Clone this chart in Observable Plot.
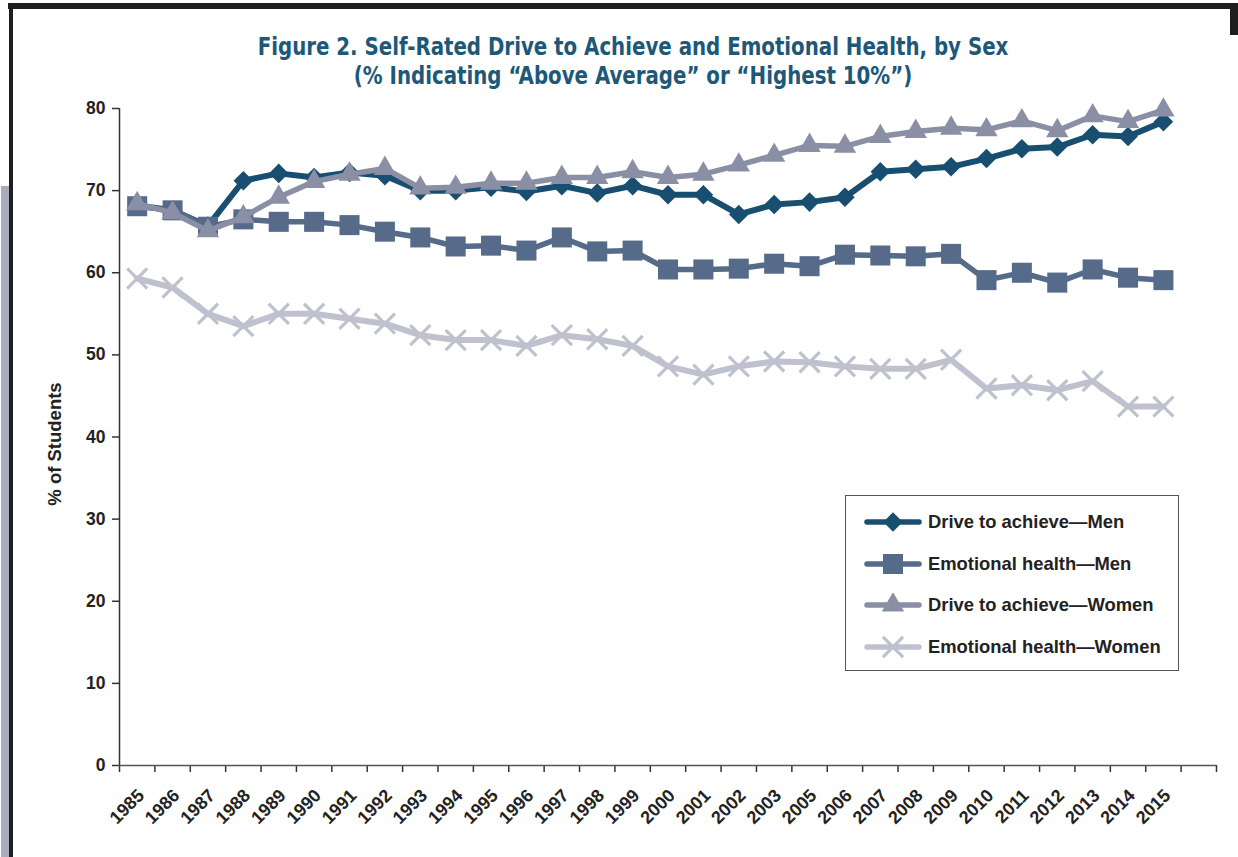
<!DOCTYPE html>
<html>
<head>
<meta charset="utf-8">
<script src="https://cdn.jsdelivr.net/npm/d3@7"></script>
<script src="https://cdn.jsdelivr.net/npm/@observablehq/plot@0.6"></script>
<style>
  html, body { margin: 0; padding: 0; background: #fff; }
  #page { position: relative; width: 1238px; height: 857px; overflow: hidden; background: #fff; font-family: "Liberation Sans", Arial, sans-serif; }
  #topbar { position: absolute; left: 8px; top: 3px; width: 1230px; height: 6px; background: #1e1e1e; }
  #leftbar { position: absolute; left: 9px; top: 3px; width: 4px; height: 857px; background: #1e1e1e; }
  #rightbar { position: absolute; left: 1230px; top: 3px; width: 8px; height: 32px; background: #1e1e1e; }
  #greybar { position: absolute; left: 1px; top: 186px; width: 8px; height: 671px; background: #a9acbd; }
  #title { position: absolute; left: 0; top: 32px; width: 1266px; text-align: center; color: #1d5878; font-family: "DejaVu Sans Condensed", "Liberation Sans Narrow", sans-serif; font-weight: bold; font-size: 25px; line-height: 29px; transform-origin: 633px 0; transform: scaleX(0.88); }
  #ylabel { position: absolute; left: 55px; top: 444px; transform: translate(-50%, -50%) rotate(-90deg); font-weight: bold; font-size: 18.5px; color: #222; white-space: nowrap; }
  #chart { position: absolute; left: 0; top: 90px; }
  #legend { position: absolute; left: 845px; top: 495px; width: 332px; height: 174px; border: 1px solid #555; background: #fff; }
  .item { position: absolute; left: 17px; height: 24px; display: flex; align-items: center; font-weight: bold; font-size: 18.4px; color: #222; white-space: nowrap; }
  .item svg { margin-right: 5px; }
</style>
</head>
<body>
<div id="page">
  <div id="topbar"></div>
  <div id="leftbar"></div>
  <div id="rightbar"></div>
  <div id="greybar"></div>
  <div id="title">Figure 2. Self-Rated Drive to Achieve and Emotional Health, by Sex<br>(% Indicating “Above Average” or “Highest 10%”)</div>
  <div id="ylabel">% of Students</div>
  <div id="chart"></div>
  <div id="legend"></div>
</div>
<script>
const years = ["1985","1986","1987","1988","1989","1990","1991","1992","1993","1994","1995","1996","1997","1998","1999","2000","2001","2002","2003","2005","2006","2007","2008","2009","2010","2011","2012","2013","2014","2015"];

const driveMen = [68.2,67.6,65.7,71.2,72.1,71.6,72.2,71.8,70.0,70.0,70.4,69.9,70.6,69.7,70.6,69.5,69.5,67.1,68.3,68.6,69.2,72.3,72.6,72.9,73.9,75.1,75.3,76.8,76.6,78.4];
const emoMen = [68.1,67.6,65.6,66.5,66.2,66.2,65.8,65.0,64.3,63.2,63.3,62.7,64.3,62.6,62.7,60.4,60.4,60.5,61.1,60.8,62.2,62.1,62.0,62.3,59.1,60.0,58.8,60.4,59.4,59.1];
const driveWomen = [68.4,67.3,65.1,66.8,69.2,71.1,72.0,72.7,70.3,70.4,70.9,70.9,71.6,71.6,72.3,71.6,72.0,73.1,74.3,75.5,75.4,76.6,77.2,77.6,77.4,78.5,77.3,79.1,78.4,79.8];
const emoWomen = [59.3,58.2,55.0,53.5,55.0,55.0,54.4,53.8,52.4,51.8,51.8,51.1,52.4,51.9,51.1,48.6,47.6,48.6,49.2,49.1,48.6,48.3,48.3,49.4,45.9,46.3,45.7,46.8,43.7,43.7];

const seriesNames = ["Drive to achieve—Men","Emotional health—Men","Drive to achieve—Women","Emotional health—Women"];
const seriesValues = [driveMen, emoMen, driveWomen, emoWomen];
const seriesColors = ["#184f71","#566a8a","#8b8fa6","#bfc1cf"];
const seriesSymbols = ["diamond2","square","triangle","times"];
const seriesR = [8.8, 11.3, 8.3, 9.2];
const seriesLineW = [6, 5.5, 5.5, 6];
const yTicks = [0,10,20,30,40,50,60,70,80];

const seriesMarks = seriesNames.flatMap((name, k) => {
  const data = seriesValues[k].map((v, i) => ({i, v}));
  const stroke = seriesColors[k];
  const isStroke = seriesSymbols[k] === "times";
  return [
    Plot.line(data, {x: "i", y: "v", stroke, strokeWidth: seriesLineW[k], strokeLinejoin: "round", strokeLinecap: "round"}),
    Plot.dot(data, {x: "i", y: "v", symbol: seriesSymbols[k], r: seriesR[k],
      fill: isStroke ? "none" : stroke, stroke: isStroke ? stroke : "none", strokeWidth: isStroke ? 3.2 : 0})
  ];
});

const chart = Plot.plot({
  width: 1238,
  height: 767,
  marginTop: 18,
  marginBottom: 92,
  marginLeft: 119,
  marginRight: 22,
  x: {type: "linear", domain: [-0.5, 30.5], axis: null},
  y: {domain: [0, 80], axis: null},
  style: {fontFamily: "Liberation Sans, Arial, sans-serif", background: "transparent", color: "#222"},
  marks: [
    Plot.axisY({ticks: yTicks, tickSize: 7, tickFormat: () => "", label: null, stroke: "#333", strokeWidth: 1.5}),
    Plot.text(yTicks, {x: -0.5, y: d => d, text: d => String(d), textAnchor: "end", dx: -14, fontSize: 17.5, fontWeight: "bold", fill: "#222"}),
    Plot.axisX({ticks: d3.range(-0.5, years.length + 1, 1), tickSize: 7, tickFormat: () => "", label: null, stroke: "#333", strokeWidth: 1.5}),
    Plot.text(years, {x: (d, i) => i, y: 0, text: d => d, rotate: -45, textAnchor: "end", dx: 4, dy: 27, fontSize: 18, fontWeight: "bold", fill: "#222"}),
    Plot.ruleX([-0.5], {y1: 0, y2: 80, stroke: "#333", strokeWidth: 1.5}),
    Plot.ruleY([0], {stroke: "#555", strokeWidth: 1.5}),
    ...seriesMarks
  ]
});
document.getElementById("chart").appendChild(chart);

// Legend
const legend = document.getElementById("legend");
seriesNames.forEach((name, k) => {
  const item = document.createElement("div");
  item.className = "item";
  item.style.top = (14 + k * 41.5) + "px";
  const svg = d3.create("svg").attr("width", 60).attr("height", 24);
  svg.append("line").attr("x1", 4).attr("x2", 56).attr("y1", 12).attr("y2", 12)
    .attr("stroke", seriesColors[k]).attr("stroke-width", 5.5).attr("stroke-linecap", "round");
  const symMap = {diamond2: d3.symbolDiamond2, square: d3.symbolSquare, triangle: d3.symbolTriangle, times: d3.symbolTimes};
  const p = svg.append("path").attr("transform", "translate(30,12)")
    .attr("d", d3.symbol(symMap[seriesSymbols[k]], Math.PI * seriesR[k] * seriesR[k])());
  if (seriesSymbols[k] === "times") p.attr("fill", "none").attr("stroke", seriesColors[k]).attr("stroke-width", 3.2);
  else p.attr("fill", seriesColors[k]);
  item.appendChild(svg.node());
  const span = document.createElement("span");
  span.textContent = name;
  item.appendChild(span);
  legend.appendChild(item);
});
</script>
</body>
</html>
